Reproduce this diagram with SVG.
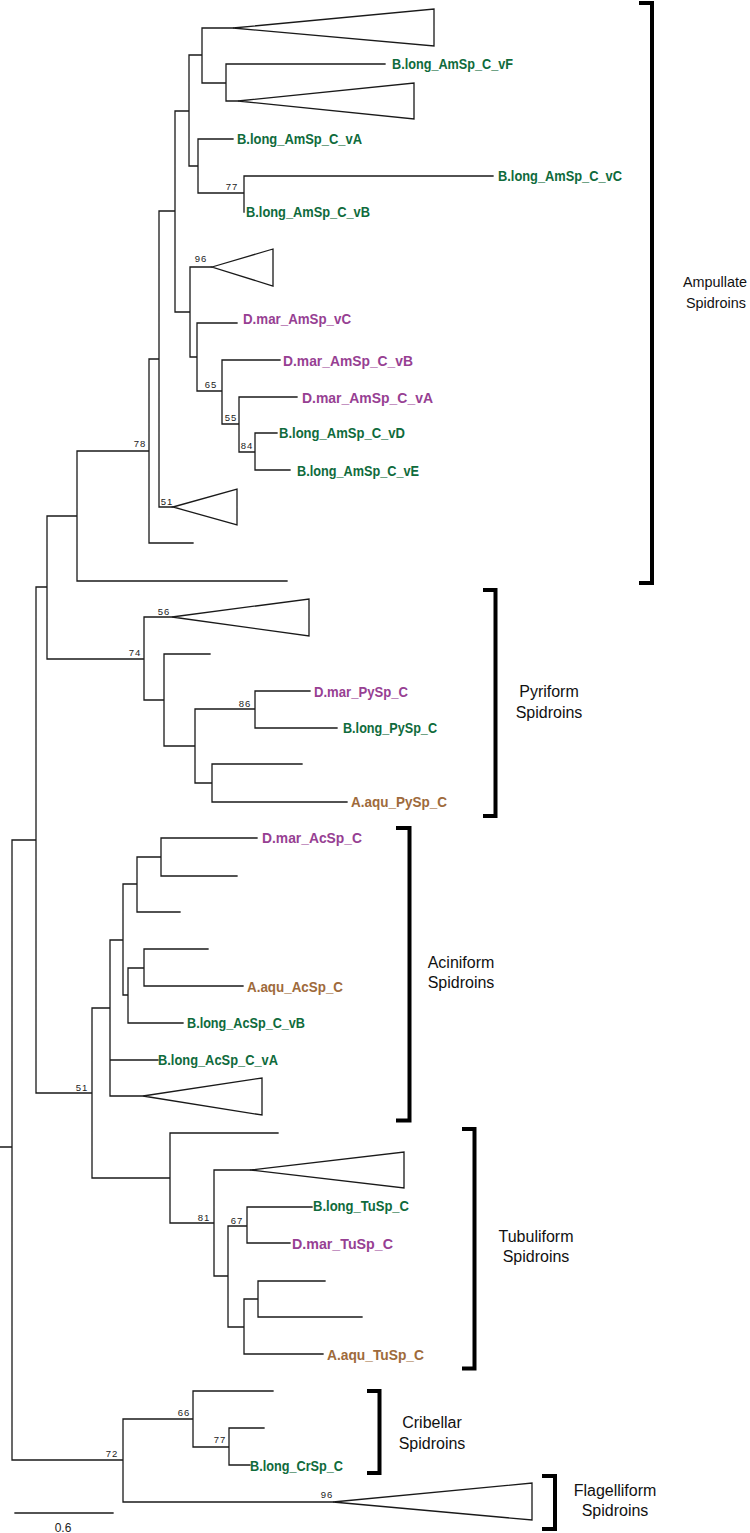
<svg xmlns="http://www.w3.org/2000/svg" width="750" height="1533" viewBox="0 0 750 1533">
<style>
.br{fill:none;stroke:#1a1a1a;stroke-width:1.3;stroke-linecap:square}
.tri{fill:#fff;stroke:#1a1a1a;stroke-width:1.3;stroke-linejoin:miter}
.lf{font-family:"Liberation Sans",Arial,sans-serif;font-weight:bold;font-size:15px}
.g{fill:#0f6b3c}.p{fill:#973f93}.b{fill:#9e6a3b}
.sv{font-family:"Liberation Sans",Arial,sans-serif;font-size:9.5px;fill:#222;text-anchor:end;letter-spacing:0.8px}
.bk{fill:none;stroke:#000;stroke-width:4;stroke-linejoin:miter}
.gl{font-family:"Liberation Sans",Arial,sans-serif;font-size:16px;fill:#111;text-anchor:middle}
</style>
<rect width="750" height="1533" fill="#fff"/>
<g id="connectors">
<path class="br" d="M0,1147 H12
M12,840 V1460 M12,840 H36 M12,1460 H123
M36,587 V1093 M36,587 H47 M36,1093 H92
M47,516 V659 M47,516 H77 M47,659 H144
M77,451 V581 M77,451 H149 M77,581 H287
M149,359 V543 M149,359 H159 M149,543 H193
M159,211 V507 M159,211 H175 M159,507 H173
M175,111 V312 M175,111 H189 M175,312 H190
M189,55 V166 M189,55 H202 M189,166 H198
M202,28 V83 M202,28 H233 M202,83 H226
M226,64 V101 M226,64 H385 M226,101 H238
M198,139 V193 M198,139 H233 M198,193 H244
M244,176 V212 M244,176 H493
M190,267 V357 M190,267 H212 M190,357 H197
M197,323 V391 M197,323 H237 M197,391 H222
M222,360 V424 M222,360 H280 M222,424 H239
M239,397 V452 M239,397 H297 M239,452 H255
M255,433 V470 M255,433 H277 M255,470 H290
M144,617 V700 M144,617 H172 M144,700 H164
M164,654 V746 M164,654 H210 M164,746 H195
M195,709 V783 M195,709 H255 M195,783 H212
M255,691 V728 M255,691 H310 M255,728 H337
M212,764 V802 M212,764 H302 M212,802 H347
M92,1008 V1178 M92,1008 H110 M92,1178 H170
M110,940 V1096 M110,940 H123 M110,1060 H158 M110,1096 H143
M123,884 V995 M123,884 H137 M123,995 H128
M137,857 V912 M137,857 H161 M137,912 H180
M161,838 V876 M161,838 H257 M161,876 H237
M128,968 V1023 M128,968 H144 M128,1023 H183
M144,949 V986 M144,949 H208 M144,986 H243
M170,1133 V1223 M170,1133 H278 M170,1223 H214
M214,1170 V1276 M214,1170 H250 M214,1276 H228
M228,1226 V1327 M228,1226 H247 M228,1327 H244
M247,1207 V1243 M247,1207 H312 M247,1243 H290
M244,1299 V1354 M244,1299 H258 M244,1354 H323
M258,1281 V1317 M258,1281 H325 M258,1317 H362
M123,1419 V1502 M123,1419 H193 M123,1502 H333
M193,1391 V1447 M193,1391 H273 M193,1447 H229
M229,1428 V1465 M229,1428 H264 M229,1465 H250"/>
</g>
<g id="collapsed-clades">
<polygon id="clade1" class="tri" points="233,28 434,9 434,46"/>
<polygon id="clade2" class="tri" points="238,101 414,83 414,119"/>
<polygon id="clade3" class="tri" points="212,267 273,249 273,286"/>
<polygon id="clade4" class="tri" points="173,507 237,489 237,525"/>
<polygon id="clade5" class="tri" points="172,617 309,599 309,636"/>
<polygon id="clade6" class="tri" points="143,1096 262,1078 262,1115"/>
<polygon id="clade7" class="tri" points="250,1170 404,1152 404,1188"/>
<polygon id="clade8" class="tri" points="333,1502 532,1483 532,1520"/>
</g>
<g id="leaf-vF"><text class="lf g" x="392" y="69" textLength="121" lengthAdjust="spacingAndGlyphs">B.long_AmSp_C_vF</text></g>
<g id="leaf-vA"><text class="lf g" x="237" y="144" textLength="125" lengthAdjust="spacingAndGlyphs">B.long_AmSp_C_vA</text></g>
<g id="leaf-vC"><text class="lf g" x="498" y="181" textLength="124" lengthAdjust="spacingAndGlyphs">B.long_AmSp_C_vC</text></g>
<g id="leaf-vB"><text class="lf g" x="246" y="217" textLength="124" lengthAdjust="spacingAndGlyphs">B.long_AmSp_C_vB</text></g>
<g id="leaf-dm-vC"><text class="lf p" x="243" y="324" textLength="108" lengthAdjust="spacingAndGlyphs">D.mar_AmSp_vC</text></g>
<g id="leaf-dm-vB"><text class="lf p" x="283" y="366" textLength="130" lengthAdjust="spacingAndGlyphs">D.mar_AmSp_C_vB</text></g>
<g id="leaf-dm-vA"><text class="lf p" x="302" y="403" textLength="131" lengthAdjust="spacingAndGlyphs">D.mar_AmSp_C_vA</text></g>
<g id="leaf-vD"><text class="lf g" x="279" y="438" textLength="126" lengthAdjust="spacingAndGlyphs">B.long_AmSp_C_vD</text></g>
<g id="leaf-vE"><text class="lf g" x="297" y="476" textLength="122" lengthAdjust="spacingAndGlyphs">B.long_AmSp_C_vE</text></g>
<g id="leaf-dm-py"><text class="lf p" x="314" y="697" textLength="94" lengthAdjust="spacingAndGlyphs">D.mar_PySp_C</text></g>
<g id="leaf-bl-py"><text class="lf g" x="343" y="733" textLength="94" lengthAdjust="spacingAndGlyphs">B.long_PySp_C</text></g>
<g id="leaf-aa-py"><text class="lf b" x="351" y="807" textLength="96" lengthAdjust="spacingAndGlyphs">A.aqu_PySp_C</text></g>
<g id="leaf-dm-ac"><text class="lf p" x="262" y="843" textLength="100" lengthAdjust="spacingAndGlyphs">D.mar_AcSp_C</text></g>
<g id="leaf-aa-ac"><text class="lf b" x="247" y="992" textLength="96" lengthAdjust="spacingAndGlyphs">A.aqu_AcSp_C</text></g>
<g id="leaf-bl-ac-vB"><text class="lf g" x="187" y="1028" textLength="118" lengthAdjust="spacingAndGlyphs">B.long_AcSp_C_vB</text></g>
<g id="leaf-bl-ac-vA"><text class="lf g" x="158" y="1065" textLength="120" lengthAdjust="spacingAndGlyphs">B.long_AcSp_C_vA</text></g>
<g id="leaf-bl-tu"><text class="lf g" x="313" y="1211" textLength="96" lengthAdjust="spacingAndGlyphs">B.long_TuSp_C</text></g>
<g id="leaf-dm-tu"><text class="lf p" x="292" y="1249" textLength="101" lengthAdjust="spacingAndGlyphs">D.mar_TuSp_C</text></g>
<g id="leaf-aa-tu"><text class="lf b" x="327" y="1360" textLength="97" lengthAdjust="spacingAndGlyphs">A.aqu_TuSp_C</text></g>
<g id="leaf-bl-cr"><text class="lf g" x="250" y="1471" textLength="93" lengthAdjust="spacingAndGlyphs">B.long_CrSp_C</text></g>
<g id="support-values">
<text class="sv" x="238" y="190">77</text>
<text class="sv" x="207" y="262">96</text>
<text class="sv" x="217" y="388">65</text>
<text class="sv" x="237" y="421">55</text>
<text class="sv" x="253" y="449">84</text>
<text class="sv" x="146" y="447">78</text>
<text class="sv" x="173" y="505">51</text>
<text class="sv" x="170" y="615">56</text>
<text class="sv" x="141" y="656">74</text>
<text class="sv" x="251" y="707">86</text>
<text class="sv" x="88" y="1091">51</text>
<text class="sv" x="210" y="1221">81</text>
<text class="sv" x="243" y="1224">67</text>
<text class="sv" x="190" y="1416">66</text>
<text class="sv" x="226" y="1443">77</text>
<text class="sv" x="118" y="1457">72</text>
<text class="sv" x="333" y="1498">96</text>
</g>
<g id="group-ampullate">
<path class="bk" d="M639,3 H652 V583 H639"/>
<text class="gl" style="font-size:15px"><tspan x="715" y="287" textLength="64" lengthAdjust="spacingAndGlyphs">Ampullate</tspan><tspan x="716" y="308" textLength="60" lengthAdjust="spacingAndGlyphs">Spidroins</tspan></text>
</g>
<g id="group-pyriform">
<path class="bk" d="M483,590 H495.5 V816 H483"/>
<text class="gl"><tspan x="549" y="697">Pyriform</tspan><tspan x="549" y="718">Spidroins</tspan></text>
</g>
<g id="group-aciniform">
<path class="bk" d="M396,828 H409.5 V1120.5 H396"/>
<text class="gl"><tspan x="461" y="968">Aciniform</tspan><tspan x="461" y="988">Spidroins</tspan></text>
</g>
<g id="group-tubuliform">
<path class="bk" d="M462,1129 H474.5 V1368.5 H462"/>
<text class="gl"><tspan x="536" y="1242">Tubuliform</tspan><tspan x="536" y="1262">Spidroins</tspan></text>
</g>
<g id="group-cribellar">
<path class="bk" d="M367,1391 H379.5 V1473 H367"/>
<text class="gl"><tspan x="432" y="1428">Cribellar</tspan><tspan x="432" y="1449">Spidroins</tspan></text>
</g>
<g id="group-flagelliform">
<path class="bk" d="M542,1476 H555 V1529 H542"/>
<text class="gl"><tspan x="615" y="1496">Flagelliform</tspan><tspan x="615" y="1516">Spidroins</tspan></text>
</g>
<g id="scale-bar">
<path class="br" d="M15,1513 H113"/>
<text x="63" y="1532" style="font-family:'Liberation Sans',Arial,sans-serif;font-size:12px;fill:#222;text-anchor:middle">0.6</text>
</g>
</svg>
